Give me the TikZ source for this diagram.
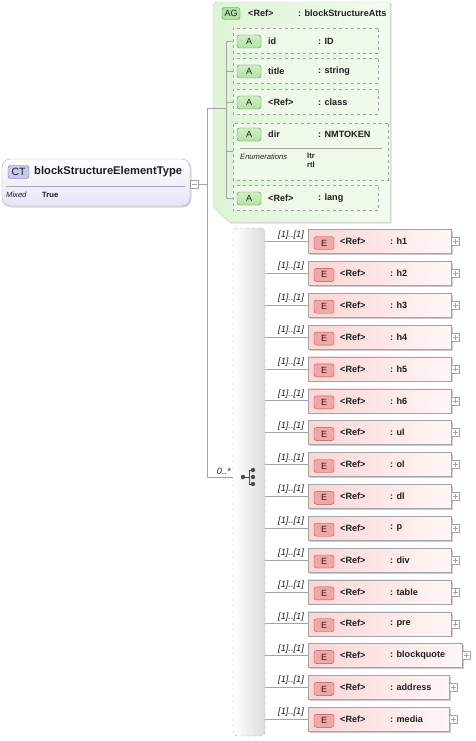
\documentclass[tikz,border=0pt]{standalone}
\usepackage{fontspec}
\setmainfont{Liberation Sans}
\usepackage{xcolor}
\usetikzlibrary{shapes.misc,shadows}
\definecolor{lineGray}{HTML}{A4A4A4}
\definecolor{ctLine}{HTML}{A8A8B8}
\definecolor{ctFill}{HTML}{E4E4F8}
\definecolor{ctBadge}{HTML}{C8C8F0}
\definecolor{ctBadgeLine}{HTML}{6A6AA8}
\definecolor{agFill}{HTML}{DDF4D6}
\definecolor{agFillB}{HTML}{F3FBF1}
\definecolor{agLine}{HTML}{BCD8B4}
\definecolor{aFill}{HTML}{EEF9EA}
\definecolor{greenBadge}{HTML}{B2E2A4}
\definecolor{greenBadgeLine}{HTML}{4E8E44}
\definecolor{eFill}{HTML}{FAD6D6}
\definecolor{eFillB}{HTML}{FFF6F6}
\definecolor{eBadge}{HTML}{F4A6A6}
\definecolor{eBadgeLine}{HTML}{B05454}
\definecolor{txt}{HTML}{1E1E1E}

\begin{document}
\begin{tikzpicture}[x=1pt,y=-1pt,
  conn/.style={draw=lineGray, line width=0.7pt},
  badge/.style={draw, rounded corners=2.5pt, minimum height=13, inner sep=0pt, text=txt, font=\fontsize{9}{9}\selectfont},
  ebadge/.style={badge, draw=eBadgeLine, fill=eBadge, minimum width=20},
  abadge/.style={badge, draw=greenBadgeLine, top color=greenBadge!60, bottom color=greenBadge, minimum width=24},
  ref/.style={anchor=west, inner sep=0pt, text=txt, font=\fontsize{9.1}{10}\selectfont\bfseries},
  small/.style={anchor=west, inner sep=0pt, text=txt, font=\fontsize{7.6}{8}\selectfont\bfseries},
  mult/.style={anchor=base east, inner sep=0pt, text=txt, font=\fontsize{9.2}{10}\selectfont\itshape},
  elem/.style={draw=lineGray, left color=eFill, right color=eFillB, minimum height=24, inner sep=0pt,
    drop shadow={shadow xshift=1.5pt, shadow yshift=-1.5pt, opacity=0.2, fill=black}},
  attr/.style={chamfered rectangle, chamfered rectangle corners={north west, south west},
    chamfered rectangle xsep=6pt, draw=lineGray, dashed, fill=aFill, inner sep=0pt, minimum height=25},
  plusbox/.style={draw=lineGray, fill=white, minimum size=8, inner sep=0pt,
    path picture={\draw[lineGray] ([xshift=-2.5pt]path picture bounding box.center) -- ([xshift=2.5pt]path picture bounding box.center)
      ([yshift=-2.5pt]path picture bounding box.center) -- ([yshift=2.5pt]path picture bounding box.center);}},
  minusbox/.style={draw=lineGray, fill=white, minimum size=8, inner sep=0pt,
    path picture={\draw[lineGray] ([xshift=-2.5pt]path picture bounding box.center) -- ([xshift=2.5pt]path picture bounding box.center);}}]
\useasboundingbox (0,0) rectangle (475,741);

\node[draw=ctLine, rounded corners=8pt, top color=white, bottom color=ctFill, minimum width=188, minimum height=47,
  drop shadow={shadow xshift=1.5pt, shadow yshift=-1.5pt, opacity=0.15, fill=black}] (ct) at (96,182.5) {};
\node[badge, draw=ctBadgeLine, fill=ctBadge, minimum width=21, font=\fontsize{10.5}{10}\selectfont] (ct-b) at (18.5,172) {CT};
\node[ref, font=\fontsize{11.2}{12}\selectfont\bfseries] (ct-n) at (34,172) {blockStructureElementType};
\draw[ctLine] (6,186) -- (185,186);
\node[small, font=\fontsize{7.6}{8}\selectfont\itshape] (ct-mx) at (6,194.5) {Mixed};
\node[small] (ct-tr) at (42,194.5) {True};
\node[minusbox, anchor=west] (ct-m) at (ct.east |- 0,184) {};

\draw[draw=agLine, left color=agFill, right color=agFillB, drop shadow={shadow xshift=1.5pt, shadow yshift=-1.5pt, opacity=0.15, fill=black}]
  (216,2) -- (390,2) -- (390,222) -- (229,222) -- (213,206) -- (213,5) -- cycle;
\node[badge, draw=greenBadgeLine, fill=greenBadge, minimum width=18, minimum height=12] (ag-b) at (231,13.5) {AG};
\node[ref] (ag-r) at (248,13) {<Ref>};
\node[ref] (ag-t) at (298,13) {: blockStructureAtts};

\node[attr, minimum width=145] (id) at (305.5,41) {};
\node[abadge] (id-b) at (249,41.5) {A};
\node[ref] (id-n) at (268,41) {id};
\node[ref] (id-t) at (318,41) {: ID};

\node[attr, minimum width=145] (title) at (305.5,71) {};
\node[abadge] (title-b) at (249,71.5) {A};
\node[ref] (title-n) at (268,71) {title};
\node[ref] (title-t) at (318,71) {: string};

\node[attr, minimum width=145] (class) at (305.5,102) {};
\node[abadge] (class-b) at (249,102.5) {A};
\node[ref] (class-n) at (268,102) {<Ref>};
\node[ref] (class-t) at (318,102) {: class};

\node[attr, minimum width=155, minimum height=57] (dir) at (310.5,151.5) {};
\node[abadge] (dir-b) at (249,134.5) {A};
\node[ref] (dir-n) at (268,134) {dir};
\node[ref] (dir-t) at (318,134) {: NMTOKEN};
\draw[lineGray] (240,148) -- (382,148);
\node[small, font=\fontsize{7.6}{8}\selectfont\itshape] (dir-e) at (240,157) {Enumerations};
\node[small] (dir-e1) at (307,156) {ltr};
\node[small] (dir-e2) at (307,165) {rtl};

\node[attr, minimum width=145] (lang) at (305.5,198) {};
\node[abadge] (lang-b) at (249,198.5) {A};
\node[ref] (lang-n) at (268,198) {<Ref>};
\node[ref] (lang-t) at (318,198) {: lang};

\coordinate (fork) at (207,108);
\coordinate (agfork) at (226,108);
\draw[conn] (agfork |- id) -- (agfork |- lang);
\draw[conn] (agfork |- id) -- (id);
\draw[conn] (agfork |- title) -- (title);
\draw[conn] (agfork |- class) -- (class);
\draw[conn] (agfork |- dir) -- (dir);
\draw[conn] (agfork |- lang) -- (lang);
\draw[conn] (fork) -- (agfork);

\node[draw=lineGray, dashed, rounded corners=4pt, left color=white, right color=black!14, minimum width=32, minimum height=508] (seq) at (249,482) {};
\coordinate (seq-i) at (249,477);
\fill[black!70] ([xshift=-6]seq-i) circle (2.2);
\fill[black!70] ([xshift=4,yshift=-7]seq-i) circle (2.2);
\fill[black!70] ([xshift=4]seq-i) circle (2.2);
\fill[black!70] ([xshift=4,yshift=7]seq-i) circle (2.2);
\draw[black!70, line width=0.9pt] ([xshift=-6]seq-i) -- ([xshift=0]seq-i) ([xshift=0,yshift=-7]seq-i) -- ([xshift=0,yshift=7]seq-i)
  ([xshift=0,yshift=-7]seq-i) -- ([xshift=4,yshift=-7]seq-i) ([xshift=0,yshift=7]seq-i) -- ([xshift=4,yshift=7]seq-i);
\node[mult] (seq-m) at (231,474) {0..*};

\draw[conn] (ct-m) -- (ct-m -| fork);
\draw[conn] (fork) -- (fork |- seq-i) -- (seq.west |- seq-i);

\node[elem, minimum width=143] (h1) at (379.5,241.5) {};
\node[ebadge] (h1-b) at (324,243) {E};
\node[ref] (h1-r) at (340,241.5) {<Ref>};
\node[ref] (h1-t) at (390,241.5) {: h1};
\node[plusbox, anchor=west] (h1-p) at (h1.east) {};
\node[mult] (h1-m) at (304,237) {[1]..[1]};
\draw[conn] (seq.east |- h1) -- (h1);

\node[elem, minimum width=143] (h2) at (379.5,273.4) {};
\node[ebadge] (h2-b) at (324,274.9) {E};
\node[ref] (h2-r) at (340,273.4) {<Ref>};
\node[ref] (h2-t) at (390,273.4) {: h2};
\node[plusbox, anchor=west] (h2-p) at (h2.east) {};
\node[mult] (h2-m) at (304,268.9) {[1]..[1]};
\draw[conn] (seq.east |- h2) -- (h2);

\node[elem, minimum width=143] (h3) at (379.5,305.2) {};
\node[ebadge] (h3-b) at (324,306.7) {E};
\node[ref] (h3-r) at (340,305.2) {<Ref>};
\node[ref] (h3-t) at (390,305.2) {: h3};
\node[plusbox, anchor=west] (h3-p) at (h3.east) {};
\node[mult] (h3-m) at (304,300.7) {[1]..[1]};
\draw[conn] (seq.east |- h3) -- (h3);

\node[elem, minimum width=143] (h4) at (379.5,337.1) {};
\node[ebadge] (h4-b) at (324,338.6) {E};
\node[ref] (h4-r) at (340,337.1) {<Ref>};
\node[ref] (h4-t) at (390,337.1) {: h4};
\node[plusbox, anchor=west] (h4-p) at (h4.east) {};
\node[mult] (h4-m) at (304,332.6) {[1]..[1]};
\draw[conn] (seq.east |- h4) -- (h4);

\node[elem, minimum width=143] (h5) at (379.5,368.9) {};
\node[ebadge] (h5-b) at (324,370.4) {E};
\node[ref] (h5-r) at (340,368.9) {<Ref>};
\node[ref] (h5-t) at (390,368.9) {: h5};
\node[plusbox, anchor=west] (h5-p) at (h5.east) {};
\node[mult] (h5-m) at (304,364.4) {[1]..[1]};
\draw[conn] (seq.east |- h5) -- (h5);

\node[elem, minimum width=143] (h6) at (379.5,400.8) {};
\node[ebadge] (h6-b) at (324,402.3) {E};
\node[ref] (h6-r) at (340,400.8) {<Ref>};
\node[ref] (h6-t) at (390,400.8) {: h6};
\node[plusbox, anchor=west] (h6-p) at (h6.east) {};
\node[mult] (h6-m) at (304,396.3) {[1]..[1]};
\draw[conn] (seq.east |- h6) -- (h6);

\node[elem, minimum width=143] (ul) at (379.5,432.6) {};
\node[ebadge] (ul-b) at (324,434.1) {E};
\node[ref] (ul-r) at (340,432.6) {<Ref>};
\node[ref] (ul-t) at (390,432.6) {: ul};
\node[plusbox, anchor=west] (ul-p) at (ul.east) {};
\node[mult] (ul-m) at (304,428.1) {[1]..[1]};
\draw[conn] (seq.east |- ul) -- (ul);

\node[elem, minimum width=143] (ol) at (379.5,464.5) {};
\node[ebadge] (ol-b) at (324,466) {E};
\node[ref] (ol-r) at (340,464.5) {<Ref>};
\node[ref] (ol-t) at (390,464.5) {: ol};
\node[plusbox, anchor=west] (ol-p) at (ol.east) {};
\node[mult] (ol-m) at (304,460) {[1]..[1]};
\draw[conn] (seq.east |- ol) -- (ol);

\node[elem, minimum width=143] (dl) at (379.5,496.3) {};
\node[ebadge] (dl-b) at (324,497.8) {E};
\node[ref] (dl-r) at (340,496.3) {<Ref>};
\node[ref] (dl-t) at (390,496.3) {: dl};
\node[plusbox, anchor=west] (dl-p) at (dl.east) {};
\node[mult] (dl-m) at (304,491.8) {[1]..[1]};
\draw[conn] (seq.east |- dl) -- (dl);

\node[elem, minimum width=143] (p) at (379.5,528.2) {};
\node[ebadge] (p-b) at (324,529.7) {E};
\node[ref] (p-r) at (340,528.2) {<Ref>};
\node[ref] (p-t) at (390,528.2) {: p};
\node[plusbox, anchor=west] (p-p) at (p.east) {};
\node[mult] (p-m) at (304,523.7) {[1]..[1]};
\draw[conn] (seq.east |- p) -- (p);

\node[elem, minimum width=143] (div) at (379.5,560) {};
\node[ebadge] (div-b) at (324,561.5) {E};
\node[ref] (div-r) at (340,560) {<Ref>};
\node[ref] (div-t) at (390,560) {: div};
\node[plusbox, anchor=west] (div-p) at (div.east) {};
\node[mult] (div-m) at (304,555.5) {[1]..[1]};
\draw[conn] (seq.east |- div) -- (div);

\node[elem, minimum width=143] (table) at (379.5,591.9) {};
\node[ebadge] (table-b) at (324,593.4) {E};
\node[ref] (table-r) at (340,591.9) {<Ref>};
\node[ref] (table-t) at (390,591.9) {: table};
\node[plusbox, anchor=west] (table-p) at (table.east) {};
\node[mult] (table-m) at (304,587.4) {[1]..[1]};
\draw[conn] (seq.east |- table) -- (table);

\node[elem, minimum width=143] (pre) at (379.5,623.7) {};
\node[ebadge] (pre-b) at (324,625.2) {E};
\node[ref] (pre-r) at (340,623.7) {<Ref>};
\node[ref] (pre-t) at (390,623.7) {: pre};
\node[plusbox, anchor=west] (pre-p) at (pre.east) {};
\node[mult] (pre-m) at (304,619.2) {[1]..[1]};
\draw[conn] (seq.east |- pre) -- (pre);

\node[elem, minimum width=154] (bq) at (385,655.6) {};
\node[ebadge] (bq-b) at (324,657.1) {E};
\node[ref] (bq-r) at (340,655.6) {<Ref>};
\node[ref] (bq-t) at (390,655.6) {: blockquote};
\node[plusbox, anchor=west] (bq-p) at (bq.east) {};
\node[mult] (bq-m) at (304,651.1) {[1]..[1]};
\draw[conn] (seq.east |- bq) -- (bq);

\node[elem, minimum width=141] (addr) at (378.5,687.4) {};
\node[ebadge] (addr-b) at (324,688.9) {E};
\node[ref] (addr-r) at (340,687.4) {<Ref>};
\node[ref] (addr-t) at (390,687.4) {: address};
\node[plusbox, anchor=west] (addr-p) at (addr.east) {};
\node[mult] (addr-m) at (304,682.9) {[1]..[1]};
\draw[conn] (seq.east |- addr) -- (addr);

\node[elem, minimum width=141] (media) at (378.5,719.3) {};
\node[ebadge] (media-b) at (324,720.8) {E};
\node[ref] (media-r) at (340,719.3) {<Ref>};
\node[ref] (media-t) at (390,719.3) {: media};
\node[plusbox, anchor=west] (media-p) at (media.east) {};
\node[mult] (media-m) at (304,714.8) {[1]..[1]};
\draw[conn] (seq.east |- media) -- (media);
\end{tikzpicture}
\end{document}
